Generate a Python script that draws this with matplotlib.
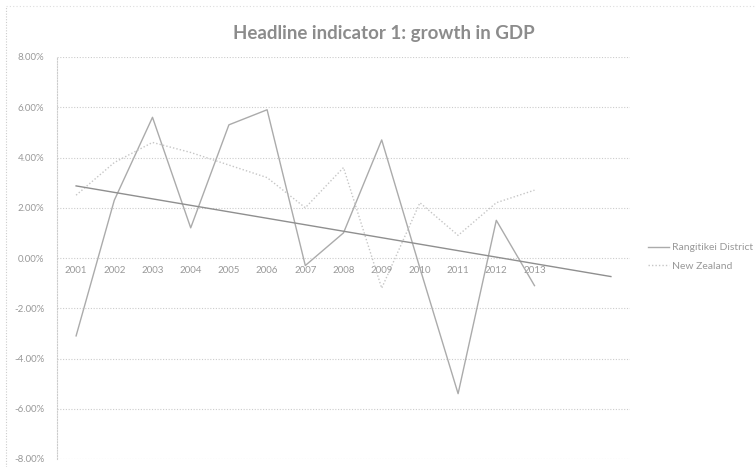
import matplotlib
matplotlib.use("Agg")
import matplotlib.pyplot as plt
import numpy as np

years = ["2001", "2002", "2003", "2004", "2005", "2006", "2007",
         "2008", "2009", "2010", "2011", "2012", "2013"]
rangitikei = [-3.1, 2.3, 5.6, 1.2, 5.3, 5.9, -0.3, 1.0, 4.7, -0.4, -5.4, 1.5, -1.1]
new_zealand = [2.5, 3.8, 4.6, 4.2, 3.7, 3.2, 2.0, 3.6, -1.2, 2.2, 0.9, 2.2, 2.7]
forecast_periods = 2

plt.rcParams['font.family'] = ['Lato', 'DejaVu Sans']

fig = plt.figure(figsize=(7.55, 4.67), dpi=100)
fig.patch.set_facecolor('white')
ax = fig.add_axes([57/755, 1-459/467, (630-57)/755, (459-57)/467])

x = np.arange(1, len(years) + 1)
grid_c = '#cccccc'
text_c = '#999999'

for v in [-8, -6, -4, -2, 0, 2, 4, 6, 8]:
    ax.axhline(v, color=grid_c, lw=0.8, ls=(0, (1, 1.5)), zorder=1)

ax.plot(x, rangitikei, color='#ababab', lw=1.0, zorder=3, label='Rangitikei District')
ax.plot(x, new_zealand, color='#c6c6c6', lw=1.0, ls=(0, (1, 1.5)), zorder=3, label='New Zealand')

# linear trendline on Rangitikei with forward forecast
coef = np.polyfit(x, rangitikei, 1)
xt = np.array([1, len(years) + forecast_periods])
ax.plot(xt, np.polyval(coef, xt), color='#8f8f8f', lw=1.0, zorder=4)

ax.set_xlim(0.5, len(years) + forecast_periods + 0.5)
ax.set_ylim(-8, 8)
ax.set_yticks([-8, -6, -4, -2, 0, 2, 4, 6, 8])
ax.set_yticklabels([f"{v:.2f}%" for v in [-8, -6, -4, -2, 0, 2, 4, 6, 8]])
ax.set_xticks(x)
ax.set_xticklabels(years)
ax.tick_params(axis='x', length=0, pad=6, labelsize=7, labelcolor=text_c)
ax.tick_params(axis='y', length=0, pad=9, labelsize=7, labelcolor=text_c)

for s in ['top', 'right']:
    ax.spines[s].set_visible(False)
ax.spines['bottom'].set_position(('data', 0))
ax.spines['bottom'].set_visible(False)
ax.spines['left'].set_color(grid_c)
ax.spines['left'].set_linestyle((0, (1, 1.5)))
ax.spines['left'].set_linewidth(0.8)

fig.text(384/755, 1-33/467, "Headline indicator 1: growth in GDP", ha='center', va='center',
         fontsize=13.5, fontweight='bold', color='#8c8c8c')

leg = fig.legend(handles=ax.get_lines()[-3:-1], loc='center left',
                 bbox_to_anchor=(639/755, 1-257/467), frameon=False,
                 fontsize=7.5, handlelength=2.0, handletextpad=0.3, labelspacing=0.9,
                 labelcolor=text_c)

# outer chart border (dotted)
fig.add_artist(plt.Line2D([6/755, 6/755], [0, 1-6/467], transform=fig.transFigure,
                          color=grid_c, lw=0.8, ls=(0, (1, 1.5))))
fig.add_artist(plt.Line2D([6/755, 1], [1-6/467, 1-6/467], transform=fig.transFigure,
                          color='#dddddd', lw=0.8, ls=(0, (1, 2))))

fig.savefig('out.png', dpi=100)
